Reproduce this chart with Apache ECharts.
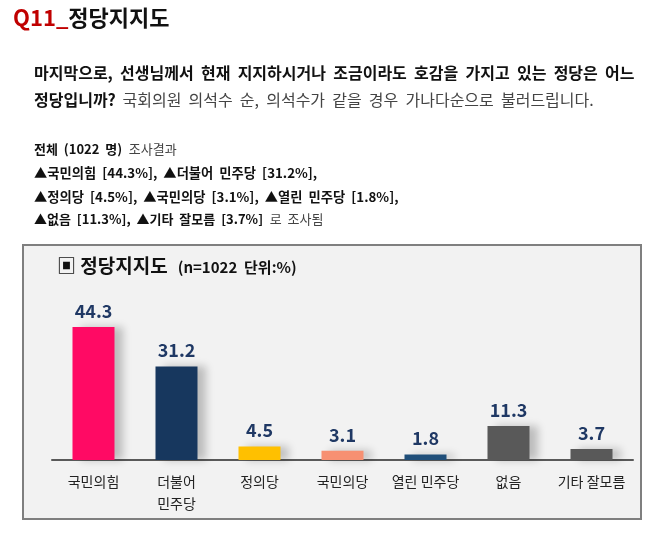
<!DOCTYPE html>
<html><head><meta charset="utf-8">
<script src="https://cdn.jsdelivr.net/npm/echarts@6/dist/echarts.min.js"></script>
<style>html,body{margin:0;padding:0;background:#fff;}#c{width:670px;height:537px;}</style>
</head><body><div id="c"></div>
<script>
const categories = ['국민의힘', '더불어\n민주당', '정의당', '국민의당', '열린 민주당', '없음', '기타 잘모름'];
const values = [44.3, 31.2, 4.5, 3.1, 1.8, 11.3, 3.7];
const barColors = ['#ff0a64', '#17375e', '#ffc000', '#f79072', '#1f4e79', '#595959', '#595959'];
const F = '"Noto Sans CJK KR", "Noto Sans", sans-serif';
const W = s => s.replace(/ /g, '  ');

const chart = echarts.init(document.getElementById('c'));
chart.setOption({
  backgroundColor: '#ffffff',
  animation: false,
  graphic: [
    { type: 'rect', z: -10, shape: { x: 23, y: 245, width: 618, height: 274 },
      style: { fill: '#f2f2f2', stroke: '#7f7f7f', lineWidth: 2 } },
    { type: 'text', left: 13, top: 7, style: { text: '{r|Q11_}{b|정당지지도}', rich: {
        r: { fill: '#c00000', fontSize: 22, fontWeight: 'bold', fontFamily: F },
        b: { fill: '#111', fontSize: 22, fontWeight: 'bold', fontFamily: F } } } },
    { type: 'text', left: 34, top: 65, style: { text: W('마지막으로, 선생님께서 현재 지지하시거나 조금이라도 호감을 가지고 있는 정당은 어느'),
        fill: '#111', fontSize: 16, fontWeight: 'bold', fontFamily: F } },
    { type: 'text', left: 34, top: 92, style: { text: '{b|정당입니까?}  {n|' + W('국회의원 의석수 순, 의석수가 같을 경우 가나다순으로 불러드립니다.') + '}', rich: {
        b: { fill: '#111', fontSize: 16, fontWeight: 'bold', fontFamily: F },
        n: { fill: '#444', fontSize: 16, fontFamily: F } } } },
    { type: 'text', left: 34, top: 143, style: { text: '{b|' + W('전체 (1022 명)') + '}  {n|조사결과}', rich: {
        b: { fill: '#111', fontSize: 13, fontWeight: 'bold', fontFamily: F },
        n: { fill: '#444', fontSize: 13, fontFamily: F } } } },
    { type: 'text', left: 34, top: 166, style: { text: W('▲국민의힘 [44.3%], ▲더불어 민주당 [31.2%],'),
        fill: '#111', fontSize: 13.3, fontWeight: 'bold', fontFamily: F } },
    { type: 'text', left: 34, top: 190, style: { text: W('▲정의당 [4.5%], ▲국민의당 [3.1%], ▲열린 민주당 [1.8%],'),
        fill: '#111', fontSize: 13.3, fontWeight: 'bold', fontFamily: F } },
    { type: 'text', left: 34, top: 213, style: { text: '{b|' + W('▲없음 [11.3%], ▲기타 잘모름 [3.7%]') + '}  {n|' + W('로 조사됨') + '}', rich: {
        b: { fill: '#111', fontSize: 13, fontWeight: 'bold', fontFamily: F },
        n: { fill: '#444', fontSize: 13, fontFamily: F } } } },
    { type: 'text', left: 57, top: 256, style: { text: '{a|▣ 정당지지도}   {s|' + W('(n=1022 단위:%)') + '}', rich: {
        a: { fill: '#111', fontSize: 19, fontWeight: 'bold', fontFamily: F },
        s: { fill: '#111', fontSize: 15, fontWeight: 'bold', fontFamily: F, padding: [3, 0, 0, 0] } } } }
  ],
  grid: { left: 52, right: 37, top: 310, bottom: 77 },
  xAxis: {
    type: 'category', data: categories,
    axisLine: { lineStyle: { color: '#595959', width: 2 } },
    axisTick: { show: false },
    axisLabel: { color: '#222', fontSize: 14, fontFamily: F, margin: 11, lineHeight: 22, interval: 0 }
  },
  yAxis: { type: 'value', min: 0, max: 50, show: false, splitLine: { show: false } },
  series: [{
    type: 'bar', barWidth: 42,
    data: values.map((v, i) => ({ value: v, itemStyle: { color: barColors[i] } })),
    itemStyle: { shadowColor: 'rgba(0,0,0,0.22)', shadowBlur: 8, shadowOffsetX: 8, shadowOffsetY: 0 },
    label: { show: true, position: 'top', distance: 7, color: '#1f3864', fontSize: 18, fontWeight: 'bold', fontFamily: F }
  }]
});
</script></body></html>
